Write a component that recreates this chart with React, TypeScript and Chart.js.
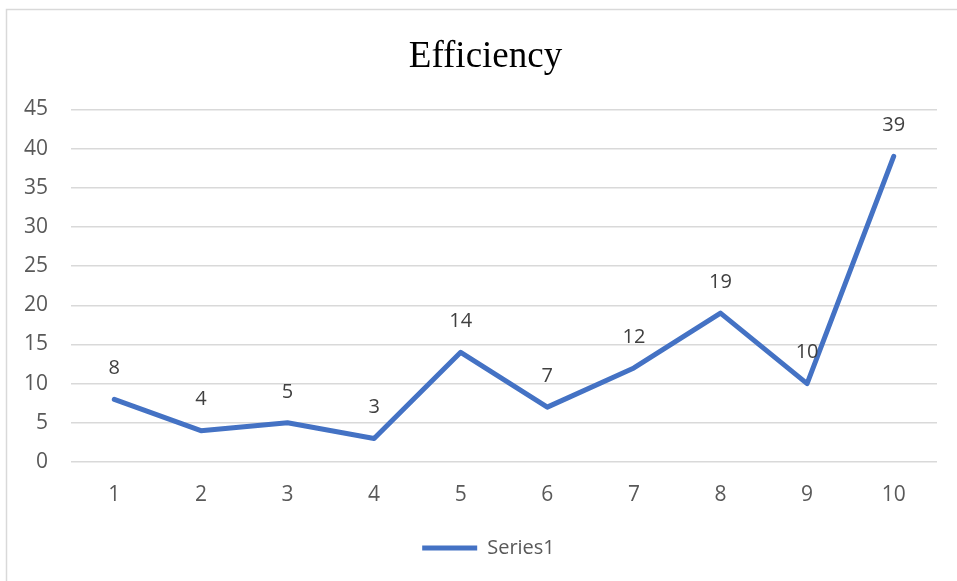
import React, { useEffect, useRef } from "react";
import { Chart, registerables } from "chart.js";

Chart.register(...registerables);

const categories = ["1", "2", "3", "4", "5", "6", "7", "8", "9", "10"];
const series1 = [8, 4, 5, 3, 14, 7, 12, 19, 10, 39];
const seriesName = "Series1";
const chartTitle = "Efficiency";
const yMin = 0;
const yMax = 45;
const yStep = 5;

const LINE_COLOR = "#4472C4";
const TEXT_COLOR = "#595959";
const LABEL_COLOR = "#404040";
const GRID_COLOR = "#d9d9d9";
const FONT = "'Open Sans', sans-serif";

const frame = {
  id: "frame",
  beforeDraw(chart: any) {
    const ctx = chart.ctx;
    ctx.save();
    ctx.strokeStyle = GRID_COLOR;
    ctx.lineWidth = 1.5;
    ctx.strokeRect(6.5, 9.5, chart.width + 20, chart.height + 20);
    ctx.restore();
  },
};

const blockShift = {
  id: "blockShift",
  beforeDraw(chart: any) {
    const t = chart.titleBlock;
    if (t && !t._shifted) {
      t.left += 17;
      t.right += 17;
      t._shifted = true;
    }
    const l = chart.legend;
    if (l && !l._shifted) {
      l.left += 20;
      l.right += 20;
      l._shifted = true;
    }
  },
};

const dataLabels = {
  id: "dataLabels",
  afterDatasetsDraw(chart: any) {
    const ctx = chart.ctx;
    ctx.save();
    ctx.font = `20px ${FONT}`;
    ctx.fillStyle = LABEL_COLOR;
    ctx.textAlign = "center";
    ctx.textBaseline = "middle";
    chart.data.datasets.forEach((ds: any, i: number) => {
      const meta = chart.getDatasetMeta(i);
      meta.data.forEach((pt: any, j: number) => {
        ctx.fillText(String(ds.data[j]), pt.x, pt.y - 31);
      });
    });
    ctx.restore();
  },
};

export default function App() {
  const ref = useRef<HTMLCanvasElement | null>(null);
  useEffect(() => {
    if (!ref.current) return;
    const chart = new Chart(ref.current, {
      type: "line",
      data: {
        labels: categories,
        datasets: [
          {
            label: seriesName,
            data: series1,
            borderColor: LINE_COLOR,
            backgroundColor: LINE_COLOR,
            borderWidth: 5,
            borderCapStyle: "round",
            borderJoinStyle: "round",
            pointRadius: 0,
            pointHoverRadius: 0,
            tension: 0,
            fill: false,
          },
        ],
      },
      options: {
        animation: false,
        responsive: false,
        maintainAspectRatio: false,
        layout: { padding: { left: 0, right: 20, top: 0, bottom: 13 } },
        plugins: {
          title: {
            display: true,
            text: chartTitle,
            color: "#000000",
            font: { family: "'Liberation Serif', 'Times New Roman', serif", size: 37, weight: "normal" },
            padding: { top: 35, bottom: 30 },
          },
          legend: {
            display: true,
            position: "bottom",
            labels: {
              usePointStyle: true,
              pointStyle: "line",
              pointStyleWidth: 55,
              boxHeight: 20,
              color: TEXT_COLOR,
              font: { family: FONT, size: 20 },
              padding: 14,
            },
          },
          tooltip: { enabled: false },
        },
        scales: {
          x: {
            offset: true,
            grid: { display: false, drawTicks: false },
            border: { display: false },
            ticks: { color: TEXT_COLOR, font: { family: FONT, size: 21 }, padding: 20, maxRotation: 0 },
            afterFit(scale: any) {
              scale.height = 62;
            },
          },
          y: {
            min: yMin,
            max: yMax,
            grid: { color: GRID_COLOR, lineWidth: 1.5, drawTicks: false },
            border: { display: false },
            ticks: { stepSize: yStep, color: TEXT_COLOR, font: { family: FONT, size: 21 }, padding: 23 },
            afterFit(scale: any) {
              scale.width = 71;
            },
          },
        },
      },
      plugins: [frame, blockShift, dataLabels],
    });
    return () => chart.destroy();
  }, []);
  return (
    <div style={{ position: "fixed", left: 0, top: 0, width: 957, height: 581, background: "#fff" }}>
      <canvas ref={ref} width={957} height={581} style={{ display: "block" }} />
    </div>
  );
}
